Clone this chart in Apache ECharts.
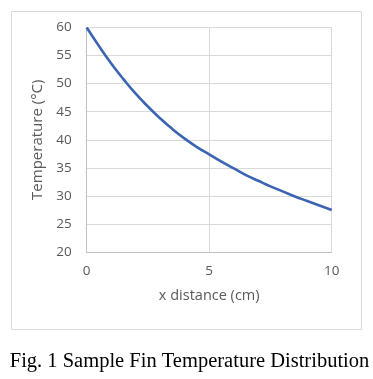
<!DOCTYPE html>
<html>
<head>
<meta charset="utf-8">
<script src="https://cdn.jsdelivr.net/npm/echarts@6/dist/echarts.min.js"></script>
<style>
html,body{margin:0;padding:0;background:#fff;}
#chart{width:373px;height:379px;}
</style>
</head>
<body>
<div id="chart"></div>
<script>
var xValues = [0, 0.5, 1, 1.5, 2, 2.5, 3, 3.5, 4, 4.5, 5, 5.5, 6, 6.5, 7, 7.5, 8, 8.5, 9, 9.5, 10];
var temperatures = [60, 56.7, 53.6, 50.8, 48.2, 45.9, 43.8, 41.9, 40.2, 38.7, 37.4, 36.1, 34.9, 33.7, 32.7, 31.7, 30.8, 29.9, 29.1, 28.3, 27.5];
var xTicks = [0, 5, 10];
var yTicks = [20, 25, 30, 35, 40, 45, 50, 55, 60];
var xTitle = 'x distance (cm)';
var yTitle = 'Temperature (\u00B0C)';
var caption = 'Fig. 1 Sample Fin Temperature Distribution';

var points = xValues.map(function (x, i) { return [x, temperatures[i]]; });

var chart = echarts.init(document.getElementById('chart'), null, {renderer: 'canvas'});
var labelFont = '"Open Sans", "DejaVu Sans", sans-serif';
chart.setOption({
  animation: false,
  backgroundColor: '#ffffff',
  grid: {left: 86.7, right: 41.3, top: 27.5, bottom: 127, containLabel: false},
  xAxis: {
    type: 'value',
    min: xTicks[0], max: xTicks[xTicks.length - 1], interval: xTicks[1] - xTicks[0],
    name: xTitle, nameLocation: 'middle', nameGap: 36.5,
    nameTextStyle: {color: '#595959', fontSize: 14.5, fontFamily: labelFont},
    axisLine: {show: true, lineStyle: {color: '#bfbfbf', width: 1}},
    axisTick: {show: false},
    axisLabel: {color: '#595959', fontSize: 13.5, fontFamily: labelFont, margin: 12.5},
    splitLine: {show: true, lineStyle: {color: '#d9d9d9', width: 1}}
  },
  yAxis: {
    type: 'value',
    min: yTicks[0], max: yTicks[yTicks.length - 1], interval: yTicks[1] - yTicks[0],
    name: yTitle, nameLocation: 'middle', nameGap: 34, nameRotate: 90,
    nameTextStyle: {color: '#595959', fontSize: 15, fontFamily: labelFont},
    axisLine: {show: true, lineStyle: {color: '#bfbfbf', width: 1}},
    axisTick: {show: false},
    axisLabel: {color: '#595959', fontSize: 13.5, fontFamily: labelFont, margin: 15},
    splitLine: {show: true, lineStyle: {color: '#d9d9d9', width: 1}}
  },
  series: [{
    type: 'line',
    data: points,
    smooth: true,
    showSymbol: false,
    symbol: 'none',
    lineStyle: {color: '#3b64b3', width: 2.6},
    z: 5
  }],
  graphic: [
    {type: 'rect', left: 9, top: 9, shape: {width: 350, height: 318},
     style: {fill: 'none', stroke: '#d9d9d9', lineWidth: 1}, silent: true, z: -1},
    {type: 'text', x: 189.5, y: 362,
     style: {text: caption, fill: '#000000', fontSize: 20.5, align: 'center', verticalAlign: 'middle',
             fontFamily: '"Liberation Serif", "Times New Roman", serif'}}
  ]
});
</script>
</body>
</html>
